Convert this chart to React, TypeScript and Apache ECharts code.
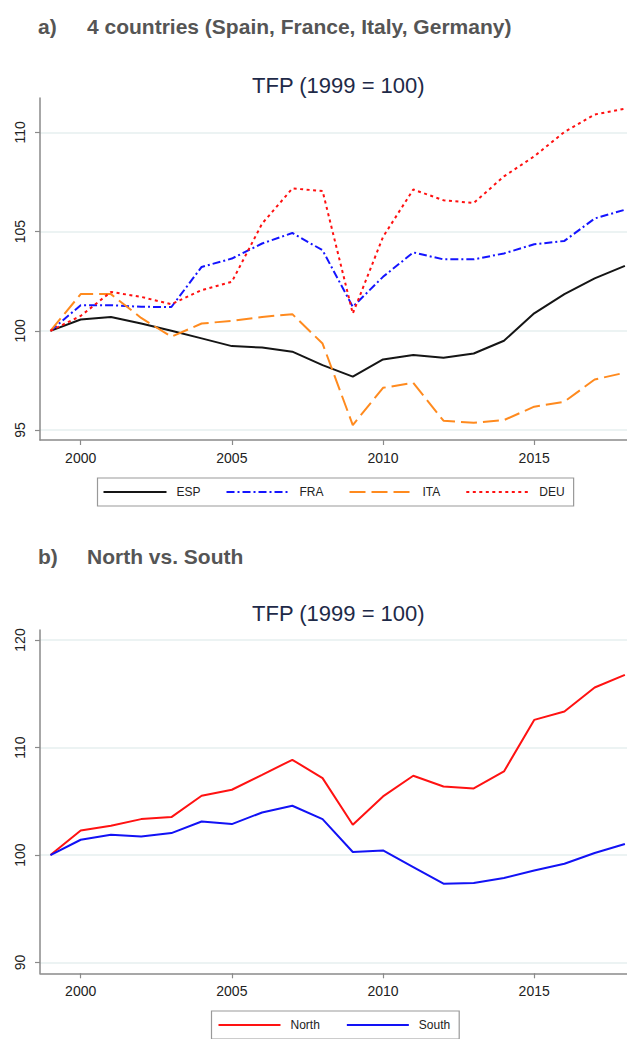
import React, { useEffect, useRef } from "react";
import * as echarts from "echarts";

const years = [1999, 2000, 2001, 2002, 2003, 2004, 2005, 2006, 2007, 2008, 2009, 2010, 2011, 2012, 2013, 2014, 2015, 2016, 2017, 2018];

const esp = [100, 100.57, 100.7, 100.37, 100.0, 99.62, 99.23, 99.16, 98.95, 98.27, 97.69, 98.56, 98.78, 98.64, 98.86, 99.5, 100.88, 101.85, 102.64, 103.27];
const fra = [100, 101.29, 101.29, 101.21, 101.2, 103.22, 103.64, 104.4, 104.93, 104.06, 101.21, 102.72, 103.95, 103.6, 103.6, 103.9, 104.36, 104.53, 105.66, 106.1];
const ita = [100, 101.85, 101.85, 100.65, 99.7, 100.37, 100.5, 100.7, 100.84, 99.36, 95.25, 97.13, 97.38, 95.47, 95.37, 95.5, 96.18, 96.43, 97.55, 97.89];
const deu = [100, 100.75, 101.96, 101.71, 101.34, 102.05, 102.47, 105.4, 107.17, 107.05, 100.87, 104.73, 107.12, 106.58, 106.44, 107.78, 108.79, 110.02, 110.9, 111.19];

const north = [100, 102.29, 102.72, 103.34, 103.53, 105.51, 106.07, 107.46, 108.86, 107.15, 102.82, 105.45, 107.37, 106.38, 106.19, 107.77, 112.57, 113.35, 115.58, 116.76];
const south = [100, 101.42, 101.89, 101.73, 102.04, 103.12, 102.88, 103.96, 104.58, 103.34, 100.28, 100.43, 98.88, 97.33, 97.4, 97.86, 98.57, 99.19, 100.19, 101.02];

const xTicks = [2000, 2005, 2010, 2015];
const yTicksA = [95, 100, 105, 110];
const yTicksB = [90, 100, 110, 120];

const titleA = "TFP (1999 = 100)";
const titleB = "TFP (1999 = 100)";
const headerA = "4 countries (Spain, France, Italy, Germany)";
const headerB = "North vs. South";

const pair = (vals: number[]) => years.map((y, i) => [y, vals[i]]);

const FONT = "'Liberation Sans', Arial, sans-serif";
const AXIS_COLOR = "#8a8a8a";
const GRID_COLOR = "#e6efef";

function xAxis(gridIndex: number) {
  return {
    type: "value",
    gridIndex,
    min: 1998.654,
    max: 2018.07,
    axisLine: { show: true, onZero: false, lineStyle: { color: AXIS_COLOR, width: 1.5 } },
    axisTick: { show: true, length: 5, customValues: xTicks, lineStyle: { color: AXIS_COLOR, width: 1.2 } },
    axisLabel: {
      customValues: xTicks,
      margin: 11,
      color: "#222",
      fontSize: 14,
      fontFamily: FONT,
      formatter: (v: number) => String(Math.round(v)),
    },
    splitLine: { show: false },
  };
}

function yAxis(gridIndex: number, min: number, max: number, ticks: number[]) {
  return {
    type: "value",
    gridIndex,
    min,
    max,
    axisLine: { show: true, onZero: false, lineStyle: { color: AXIS_COLOR, width: 1.5 } },
    axisTick: { show: true, length: 5, customValues: ticks, lineStyle: { color: AXIS_COLOR, width: 1.2 } },
    axisLabel: { customValues: ticks, rotate: 90, margin: 13, color: "#222", fontSize: 14, fontFamily: FONT },
    splitLine: { show: true, lineStyle: { color: GRID_COLOR, width: 1.5 } },
  };
}

function lineSeries(name: string, vals: number[], color: string, type: any, idx: number, width = 2) {
  return {
    type: "line",
    name,
    data: pair(vals),
    xAxisIndex: idx,
    yAxisIndex: idx,
    symbol: "none",
    lineStyle: { color, width, type },
    itemStyle: { color },
    z: 3,
  };
}

export default function App() {
  const ref = useRef<HTMLDivElement>(null);
  useEffect(() => {
    if (!ref.current) return;
    const chart = echarts.init(ref.current, undefined, { renderer: "svg" });
    const legendCommon = {
      orient: "horizontal",
      borderColor: "#999",
      borderWidth: 1.2,
      backgroundColor: "#fff",
      itemHeight: 14,
      itemStyle: { opacity: 0, borderWidth: 0 },
      textStyle: { fontSize: 12, color: "#222", fontFamily: FONT, padding: [0, 0, 0, 5] },
    };
    chart.setOption({
      animation: false,
      backgroundColor: "#fff",
      title: [
        { text: titleA, left: 247, top: 69, textStyle: { fontSize: 22, fontWeight: "normal", color: "#1e2a48", fontFamily: FONT } },
        { text: titleB, left: 247, top: 597, textStyle: { fontSize: 22, fontWeight: "normal", color: "#1e2a48", fontFamily: FONT } },
      ],
      grid: [
        { left: 40, top: 98, width: 587, height: 342, containLabel: false },
        { left: 40, top: 630, width: 587, height: 343.3, containLabel: false },
      ],
      xAxis: [xAxis(0), xAxis(1)],
      yAxis: [yAxis(0, 94.5, 111.73, yTicksA), yAxis(1, 89.0, 120.93, yTicksB)],
      legend: [
        {
          ...legendCommon,
          data: ["ESP", "FRA", "ITA", "DEU"],
          left: 97.5,
          top: 478,
          padding: [8, 9, 8, 5],
          itemWidth: 63,
          itemGap: 25,
        },
        {
          ...legendCommon,
          data: ["North", "South"],
          left: 211.5,
          top: 1011,
          padding: [8, 9, 8, 6],
          itemWidth: 62,
          itemGap: 26,
        },
      ],
      graphic: [
        { type: "text", left: 38, top: 16, style: { text: "a)", font: `bold 21px ${FONT}`, fill: "#555" } },
        { type: "text", left: 87, top: 16, style: { text: headerA, font: `bold 21px ${FONT}`, fill: "#555" } },
        { type: "text", left: 38, top: 546, style: { text: "b)", font: `bold 21px ${FONT}`, fill: "#555" } },
        { type: "text", left: 87, top: 546, style: { text: headerB, font: `bold 21px ${FONT}`, fill: "#555" } },
      ],
      series: [
        lineSeries("ESP", esp, "#151515", "solid", 0),
        lineSeries("FRA", fra, "#1414ff", [8, 3, 2, 3], 0),
        lineSeries("ITA", ita, "#ff8a1e", [16, 6], 0),
        lineSeries("DEU", deu, "#ff1010", [3, 3.5], 0),
        lineSeries("North", north, "#ff1212", "solid", 1),
        lineSeries("South", south, "#1212f5", "solid", 1),
      ],
    });
    return () => chart.dispose();
  }, []);
  return <div ref={ref} style={{ position: "fixed", left: 0, top: 0, width: 627, height: 1039 }} />;
}
